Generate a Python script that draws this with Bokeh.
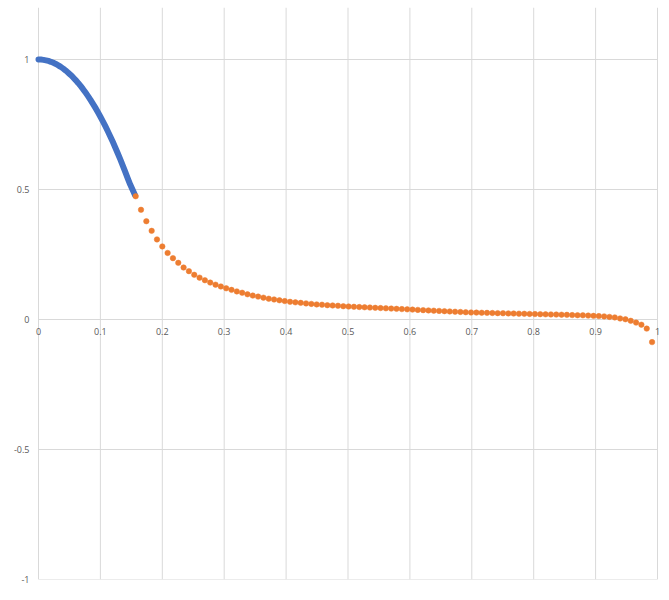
from bokeh.plotting import figure
from bokeh.models import Range1d, FixedTicker
from bokeh.embed import file_html
from bokeh.resources import INLINE

# ---- data ----
blue_x = [0.000, 0.004, 0.008, 0.012, 0.016, 0.020, 0.024, 0.028, 0.032, 0.036,
          0.040, 0.044, 0.048, 0.052, 0.056, 0.060, 0.064, 0.068, 0.072, 0.076,
          0.080, 0.084, 0.088, 0.092, 0.096, 0.100, 0.104, 0.108, 0.112, 0.116,
          0.120, 0.124, 0.128, 0.132, 0.136, 0.140, 0.144, 0.148, 0.152, 0.156]
blue_y = [1.000, 0.9996, 0.9986, 0.9968, 0.9944, 0.9912, 0.9873, 0.9828, 0.9775, 0.9715,
          0.9648, 0.9574, 0.9493, 0.9405, 0.9310, 0.9208, 0.9099, 0.8983, 0.8860, 0.8729,
          0.8592, 0.8448, 0.8296, 0.8138, 0.7972, 0.7800, 0.7620, 0.7434, 0.7240, 0.7040,
          0.6832, 0.6617, 0.6396, 0.6167, 0.5931, 0.5688, 0.5440, 0.5200, 0.4990, 0.4780]

orange_x = [0.1570, 0.1656, 0.1742, 0.1828, 0.1914, 0.2000, 0.2086, 0.2172, 0.2258, 0.2344,
            0.2430, 0.2516, 0.2602, 0.2688, 0.2774, 0.2860, 0.2946, 0.3032, 0.3118, 0.3204,
            0.3290, 0.3376, 0.3462, 0.3548, 0.3634, 0.3720, 0.3806, 0.3892, 0.3978, 0.4064,
            0.4150, 0.4236, 0.4322, 0.4408, 0.4494, 0.4580, 0.4666, 0.4752, 0.4838, 0.4924,
            0.5010, 0.5096, 0.5182, 0.5268, 0.5354, 0.5440, 0.5526, 0.5612, 0.5698, 0.5784,
            0.5870, 0.5956, 0.6042, 0.6128, 0.6214, 0.6300, 0.6386, 0.6472, 0.6558, 0.6644,
            0.6730, 0.6816, 0.6902, 0.6988, 0.7074, 0.7160, 0.7246, 0.7332, 0.7418, 0.7504,
            0.7590, 0.7676, 0.7762, 0.7848, 0.7934, 0.8020, 0.8106, 0.8192, 0.8278, 0.8364,
            0.8450, 0.8536, 0.8622, 0.8708, 0.8794, 0.8880, 0.8966, 0.9052, 0.9138, 0.9224,
            0.9310, 0.9396, 0.9482, 0.9568, 0.9654, 0.9740, 0.9826, 0.9912]
orange_y = [0.474, 0.422, 0.378, 0.341, 0.308, 0.281, 0.256, 0.236, 0.218, 0.200,
            0.186, 0.172, 0.161, 0.151, 0.142, 0.134, 0.127, 0.120, 0.114, 0.108,
            0.103, 0.097, 0.092, 0.088, 0.084, 0.080, 0.077, 0.074, 0.071, 0.068,
            0.066, 0.064, 0.062, 0.060, 0.058, 0.057, 0.055, 0.054, 0.053, 0.051,
            0.050, 0.049, 0.048, 0.047, 0.046, 0.045, 0.044, 0.043, 0.042, 0.041,
            0.040, 0.039, 0.038, 0.037, 0.036, 0.035, 0.034, 0.033, 0.032, 0.031,
            0.030, 0.029, 0.028, 0.027, 0.0265, 0.026, 0.0255, 0.025, 0.0245, 0.024,
            0.0235, 0.023, 0.0225, 0.022, 0.0215, 0.021, 0.0205, 0.020, 0.0195, 0.019,
            0.0185, 0.018, 0.017, 0.0165, 0.016, 0.015, 0.014, 0.013, 0.012, 0.010,
            0.008, 0.004, 0.001, -0.005, -0.012, -0.020, -0.035, -0.087]

x_ticks = [0, 0.1, 0.2, 0.3, 0.4, 0.5, 0.6, 0.7, 0.8, 0.9, 1]
x_tick_labels = ["0", "0.1", "0.2", "0.3", "0.4", "0.5", "0.6", "0.7", "0.8", "0.9", "1"]
y_ticks = [-1, -0.5, 0, 0.5, 1]
y_tick_labels = ["-1", "-0.5", "0", "0.5", "1"]

X_MIN, X_MAX = 0, 1
Y_MIN, Y_MAX = -1, 1.2

FONT = "Open Sans"
LABEL_COLOR = "#595959"
GRID_COLOR = "#D9D9D9"

# frame is 8px wider on the left and 4px on the right than the 0..1 area,
# so that the end tick labels are not clipped
PX_PER_X = 619.0
p = figure(width=661, height=592, output_backend="svg", toolbar_location=None,
           x_range=Range1d(X_MIN - 8 / PX_PER_X, X_MAX + 4 / PX_PER_X),
           y_range=Range1d(Y_MIN, Y_MAX),
           min_border_left=30, min_border_right=0, min_border_top=7, min_border_bottom=13)
p.outline_line_color = None
p.background_fill_color = "white"
p.border_fill_color = "white"
p.xgrid.grid_line_color = None
p.ygrid.grid_line_color = None

# gridlines limited to the 0..1 / -1..1.2 area
p.segment(x0=x_ticks, y0=[Y_MIN] * len(x_ticks), x1=x_ticks, y1=[Y_MAX] * len(x_ticks),
          line_color=GRID_COLOR, line_width=1)
p.segment(x0=[X_MIN] * len(y_ticks), y0=y_ticks, x1=[X_MAX] * len(y_ticks), y1=y_ticks,
          line_color=GRID_COLOR, line_width=1)

ya = p.yaxis[0]
ya.ticker = FixedTicker(ticks=y_ticks)
ya.major_label_overrides = {t: l for t, l in zip(y_ticks, y_tick_labels)}
ya.axis_line_color = None
ya.major_label_standoff = 1

xa = p.xaxis[0]
xa.fixed_location = 0
xa.ticker = FixedTicker(ticks=x_ticks)
xa.major_label_overrides = {t: l for t, l in zip(x_ticks, x_tick_labels)}
xa.axis_line_color = None
xa.major_label_standoff = 8

for ax in (xa, ya):
    ax.major_tick_line_color = None
    ax.minor_tick_line_color = None
    ax.major_tick_out = 0
    ax.major_tick_in = 0
    ax.major_label_text_font = FONT
    ax.major_label_text_font_size = "9px"
    ax.major_label_text_color = LABEL_COLOR

p.line(blue_x, blue_y, line_color="#4472C4", line_width=6,
       line_cap="round", line_join="round")
p.scatter(orange_x, orange_y, size=5.5, marker="circle",
          fill_color="#ED7D31", line_color="#ED7D31", line_width=0.5)

open("out.html", "w").write(file_html(p, INLINE))
